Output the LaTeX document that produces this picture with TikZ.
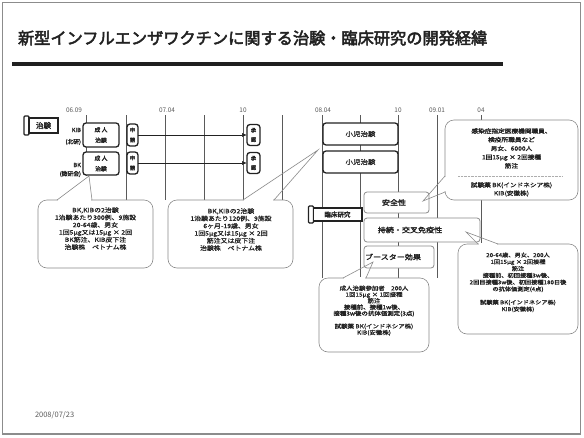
\documentclass[tikz,border=0pt]{standalone}
\usepackage{fontspec}
\setmainfont{Noto Sans CJK JP}
\newfontfamily\jb{Noto Sans CJK JP}[FakeBold=2]
\newfontfamily\jt{Noto Sans CJK JP}[FakeBold=3]
\newfontfamily\jw{Noto Sans CJK JP}[FakeStretch=1.15,FakeBold=1]
\newfontfamily\jwb{Noto Sans CJK JP}[FakeStretch=1.15,FakeBold=2]
\usetikzlibrary{arrows.meta}
\definecolor{ink}{HTML}{222222}
\definecolor{framec}{HTML}{8C8C8C}
\definecolor{gridc}{HTML}{5A5A5A}
\definecolor{softc}{HTML}{8A8A8A}
\newcommand\cptr[5]{%
  \draw[white, line width=1.2pt] (#1+0.7,#3) -- (#2-0.7,#3);
  \draw[ptr] (#1,#3) -- (#4,#5) -- (#2,#3);}
\begin{document}
\begin{tikzpicture}[x=1pt,y=-1pt,
  every node/.style={inner sep=0pt, outer sep=0pt, text=ink},
  vline/.style={draw=gridc, line width=0.7pt},
  tlabel/.style={font=\fontsize{6.4}{7}\selectfont, text=gridc},
  tbox/.style={draw=ink, line width=1.3pt, rounded corners=3pt, fill=white, align=center},
  sbox/.style={draw=softc, line width=0.8pt, rounded corners=3pt, fill=white},
  callout/.style={draw=softc, line width=0.6pt, rounded corners=9pt, fill=white},
  ptr/.style={draw=softc, line width=0.6pt},
  ctext/.style={align=center},
  arr/.style={draw=ink, line width=0.7pt, -{Latex[length=5pt,width=4pt]}},
  banner/.style={draw=ink, line width=1.1pt, fill=white},
]
\useasboundingbox (0,0) rectangle (584,437);
\fill[white] (0,0) rectangle (584,437);
\draw[framec, line width=1.5pt] (2.5,2.5) rectangle (580.5,434);

% title
\node[anchor=west, font=\jt\fontsize{16.2}{18}\selectfont, text=ink] (title) at (18,38) {新型インフルエンザワクチンに関する治験・臨床研究の開発経緯};
\draw[line width=4pt, gray!25!black] (12,64) -- (503,64);

% time labels
\node[tlabel] (d1) at (74,110) {06.09};
\node[tlabel] (d2) at (167,110) {07.04};
\node[tlabel] (d3) at (243,110) {10};
\node[tlabel] (d4) at (323,110) {08.04};
\node[tlabel] (d5) at (398,110) {10};
\node[tlabel] (d6) at (437,110) {09.01};
\node[tlabel] (d7) at (481,110) {04};

% grid lines
\draw[vline] (86,115) -- (86,176);
\foreach \x in {126,165,204,243,282} \draw[vline] (\x,115) -- (\x,200);
\foreach \x in {322,360,398,437} \draw[vline] (\x,115) -- (\x,278);
\draw[vline] (481,115) -- (481,244);

% banner chiken
\draw[banner, rounded corners=1pt] (24,116) rectangle (29,135);
\draw[banner] (29,118) rectangle (58,133);
\node[font=\jb\fontsize{7.5}{8}\selectfont] (chiken) at (43.5,125.5) {治験};

% makers
\node[anchor=east, font=\jb\fontsize{5.8}{6}\selectfont] (kib) at (81,130) {KIB};
\node[anchor=east, font=\jb\fontsize{5.8}{6}\selectfont] (kibo) at (81,142) {(北研)};
\node[anchor=east, font=\jb\fontsize{5.8}{6}\selectfont] (bk) at (81,165) {BK};
\node[anchor=east, font=\jb\fontsize{5.8}{6}\selectfont] (bko) at (81,174) {(微研会)};

% adult trials
\node[tbox, minimum width=36pt, minimum height=24pt, font=\jb\fontsize{5.8}{10.5}\selectfont] (adult1) at (101,135) {成 人\\治験};
\node[tbox, minimum width=36pt, minimum height=23pt, font=\jb\fontsize{5.8}{10.5}\selectfont] (adult2) at (101,163.5) {成 人\\治験};
\node[tbox, minimum width=11pt, minimum height=22pt, font=\jb\fontsize{5.2}{10}\selectfont] (app1) at (132.5,135) {申\\請};
\node[tbox, minimum width=11pt, minimum height=22pt, font=\jb\fontsize{5.2}{10}\selectfont] (app2) at (132.5,163) {申\\請};
\node[tbox, minimum width=13pt, minimum height=21pt, font=\jb\fontsize{5.2}{9.5}\selectfont] (ok1) at (253.5,135) {承\\認};
\node[tbox, minimum width=13pt, minimum height=21pt, font=\jb\fontsize{5.2}{9.5}\selectfont] (ok2) at (253.5,163) {承\\認};
\draw[arr] (app1.east) -- (ok1.west);
\draw[arr] (app2.east) -- (ok2.west);

% pediatric trials
\node[tbox, minimum width=75pt, minimum height=22pt, font=\jw\fontsize{6.5}{7}\selectfont] (ped1) at (360.5,134) {小児治験};
\node[tbox, minimum width=75pt, minimum height=22pt, font=\jw\fontsize{6.5}{7}\selectfont] (ped2) at (360.5,162) {小児治験};

% clinical research
\draw[banner, rounded corners=1pt] (308.5,206) rectangle (313.5,223);
\draw[banner] (313.5,208) rectangle (362,221);
\node[font=\jb\fontsize{6.5}{7}\selectfont] (rinsho) at (337.5,214.5) {臨床研究};

\node[sbox, minimum width=65pt, minimum height=21pt] (safe) at (396.5,202.5) {};
\node[font=\jwb\fontsize{7}{8}\selectfont] (safet) at (394,202.5) {安全性};
\node[sbox, minimum width=116pt, minimum height=24pt] (persist) at (422,230) {};
\node[font=\jwb\fontsize{7}{8}\selectfont] (persistt) at (410,230) {持続・交叉免疫性};
\node[sbox, minimum width=70pt, minimum height=22pt] (boost) at (399,257) {};
\node[font=\jwb\fontsize{7}{8}\selectfont] (boostt) at (393,257) {ブースター効果};

% callout 1
\node[callout, minimum width=115pt, minimum height=68pt] (c1) at (95.5,234) {};
\node[ctext, anchor=north, font=\jw\fontsize{6}{7.4}\selectfont] (c1t) at (95.5,207.3) {BK,KIBの2治験\\1治験あたり300例、9施設\\20-64歳、男女\\1回5μg又は15μg × 2回\\BK筋注、KIB皮下注\\治験株　ベトナム株};
\cptr{57}{92}{200}{89}{176}

% callout 2
\node[callout, minimum width=125pt, minimum height=68pt] (c2) at (230.5,234) {};
\node[ctext, anchor=north, font=\jw\fontsize{6}{7.4}\selectfont] (c2t) at (231,208.3) {BK,KIBの2治験\\1治験あたり120例、9施設\\6ヶ月-19歳、男女\\1回5μg又は15μg × 2回\\筋注又は皮下注\\治験株　ベトナム株};
\cptr{243}{274}{200}{318}{150}

% callout 3 (top right)
\node[callout, minimum width=133pt, minimum height=80pt] (c3) at (511.5,160) {};
\node[ctext, anchor=north, font=\jw\fontsize{5.8}{8.7}\selectfont] (c3t) at (511.5,128.3) {{\jwb 感染症指定医療機関職員、}\\{\jwb 検疫所職員など}\\男女、6000人\\{\jwb 1回15μg × 2回接種}\\筋注};
\draw[densely dotted, softc!70] (458,176) -- (562,176);
\node[ctext, anchor=north, font=\jw\fontsize{5.8}{8.2}\selectfont] (c3u) at (511.5,182.3) {{\jwb 試験薬}\ BK(インドネシア株)\\KIB(安徽株)};
\draw[white, line width=1.2pt] (445,176.7) -- (445,191.3);
\draw[ptr] (445,176) -- (423,201) -- (445,192);

% callout 4 (bottom middle)
\node[callout, minimum width=110pt, minimum height=74pt] (c4) at (374,315) {};
\node[ctext, anchor=north, font=\jw\fontsize{5.6}{6.3}\selectfont] (c4t) at (374,285.6) {成人治験参加者　200人\\1回15μg × 1回接種\\筋注\\{\jwb 接種前、接種1w後、}\\{\jwb 接種3w後の抗体価測定(3点)}\\[6.5pt]{\jwb 試験薬}\ BK(インドネシア株)\\KIB(安徽株)};
\cptr{343}{366}{278}{373}{262}

% callout 5 (bottom right)
\node[callout, minimum width=120pt, minimum height=90pt] (c5) at (518,289) {};
\node[ctext, anchor=north, font=\jw\fontsize{5.4}{6.8}\selectfont] (c5t) at (518,252.5) {20-64歳、男女、200人\\1回15μg × 2回接種\\筋注\\{\jwb 接種前、初回接種3w後、}\\{\jwb 2回目接種3w後、初回接種180日後}\\{\jwb の抗体価測定(4点)}\\[6.5pt]{\jwb 試験薬}\ BK(インドネシア株)\\KIB(安徽株)};
\cptr{478}{498}{244}{466}{232}

% date
\node[anchor=west, font=\fontsize{7.5}{8}\selectfont, text=gridc] (date) at (35,415) {2008/07/23};
\end{tikzpicture}
\end{document}
